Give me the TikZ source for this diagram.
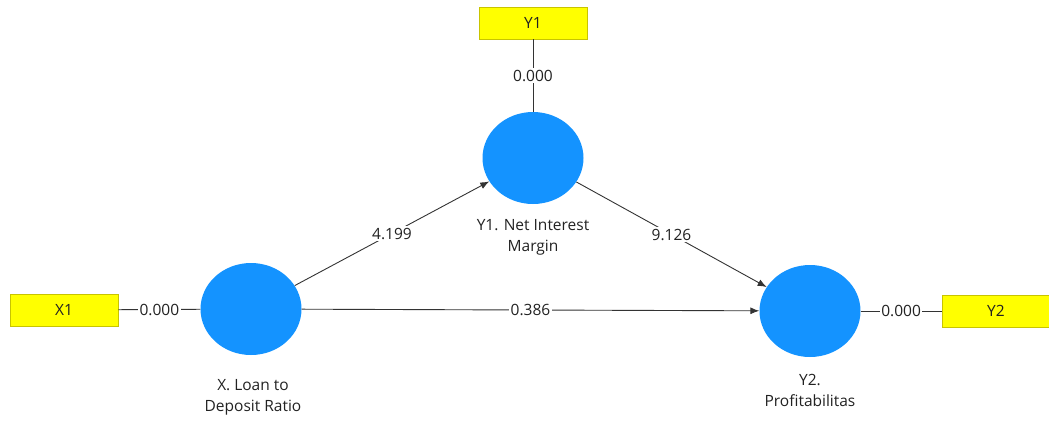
\documentclass[tikz,border=0pt]{standalone}
\usepackage{fontspec}
\setmainfont{Open Sans}
\usetikzlibrary{arrows.meta,shapes.geometric}
\definecolor{lvblue}{HTML}{1493FF}
\definecolor{indyel}{HTML}{FFFF00}
\definecolor{indborder}{HTML}{C8C400}
\definecolor{linegray}{HTML}{333333}
\definecolor{txt}{HTML}{222222}
\tikzset{
  latent/.style={ellipse, fill=lvblue, minimum width=101pt, minimum height=92pt, inner sep=0pt},
  indicator/.style={rectangle, fill=indyel, draw=indborder, line width=0.8pt, minimum width=108pt, minimum height=32pt, inner sep=0pt, font=\fontsize{15.5}{18}\selectfont, text=txt},
  lvlabel/.style={align=center, font=\fontsize{15.5}{21}\selectfont, text=txt},
  conn/.style={draw=linegray, line width=0.9pt},
  path/.style={conn, -{Latex[length=9pt,width=7pt]}},
  wlab/.style={fill=white, inner sep=1.5pt, font=\fontsize{15.5}{18}\selectfont, text=txt}
}
\begin{document}
\begin{tikzpicture}[x=1pt,y=-1pt]
\useasboundingbox (0,0) rectangle (1049,421);
\node[latent] (X) at (251,309) {};
\node[latent] (M) at (533,158) {};
\node[latent] (Y) at (810,311) {};
\node[indicator] (bx1) at (64,310) {X1};
\node[indicator] (by1) at (533,23) {Y1};
\node[indicator] (by2) at (996,311) {Y2};
\node[lvlabel] (lx) at (253,397) {X. Loan to\\Deposit Ratio};
\node[lvlabel] (lm) at (533,237) {Y1. Net Interest\\Margin};
\node[lvlabel] (ly) at (810,390) {Y2.\\Profitabilitas};
\draw[conn] (bx1) -- node[wlab] {0.000} (X);
\draw[conn] (by1) -- node[wlab, pos=0.5] {0.000} (M);
\draw[conn] (Y) -- node[wlab] {0.000} (by2);
\draw[path] (X) -- node[wlab, pos=0.5] {4.199} (M);
\draw[path] (M) -- node[wlab, pos=0.5] {9.126} (Y);
\draw[path] (X) -- node[wlab, pos=0.5] {0.386} (Y);
\end{tikzpicture}
\end{document}
